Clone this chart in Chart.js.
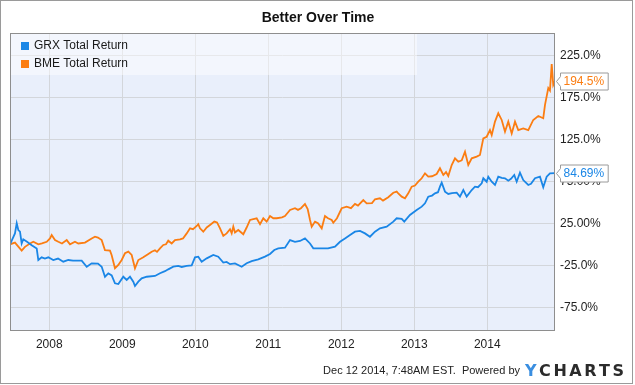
<!DOCTYPE html>
<html>
<head>
<meta charset="utf-8">
<script src="https://cdn.jsdelivr.net/npm/chart.js@4.4.1/dist/chart.umd.min.js"></script>
<style>
html,body{margin:0;padding:0;background:#fff;}
canvas{display:block;}
</style>
</head>
<body>
<canvas id="c" width="635" height="385"></canvas>
<script>
const chartTitle = 'Better Over Time';
const seriesNames = ['GRX Total Return', 'BME Total Return'];
const years = [2008, 2009, 2010, 2011, 2012, 2013, 2014];
const yTickValues = [-75, -25, 25, 75, 125, 175, 225];
const yTickLabels = ['-75.0%', '-25.0%', '25.00%', '75.00%', '125.0%', '175.0%', '225.0%'];
const footerText = 'Dec 12 2014, 7:48AM EST.  Powered by';

const grxDates = [2007.462, 2007.530, 2007.554, 2007.576, 2007.599, 2007.622, 2007.644, 2007.695, 2007.759, 2007.828,
  2007.850, 2007.896, 2007.941, 2007.987, 2008.055, 2008.120, 2008.192, 2008.261, 2008.325, 2008.444,
  2008.513, 2008.581, 2008.667, 2008.718, 2008.763, 2008.809, 2008.855, 2008.900, 2008.946, 2009.014,
  2009.061, 2009.106, 2009.151, 2009.174, 2009.220, 2009.266, 2009.335, 2009.448, 2009.517, 2009.585,
  2009.630, 2009.699, 2009.767, 2009.814, 2009.883, 2009.951, 2009.996, 2010.041, 2010.088, 2010.157,
  2010.247, 2010.315, 2010.384, 2010.430, 2010.476, 2010.544, 2010.636, 2010.704, 2010.773, 2010.863,
  2010.955, 2011.024, 2011.083, 2011.137, 2011.229, 2011.298, 2011.366, 2011.435, 2011.503, 2011.572,
  2011.617, 2011.732, 2011.818, 2011.914, 2011.983, 2012.051, 2012.120, 2012.188, 2012.257, 2012.325,
  2012.393, 2012.462, 2012.530, 2012.622, 2012.713, 2012.759, 2012.828, 2012.863, 2012.941, 2013.033,
  2013.102, 2013.147, 2013.192, 2013.243, 2013.284, 2013.325, 2013.352, 2013.376, 2013.421, 2013.466,
  2013.517, 2013.581, 2013.626, 2013.672, 2013.718, 2013.787, 2013.832, 2013.873, 2013.924, 2013.946,
  2013.992, 2014.014, 2014.061, 2014.106, 2014.151, 2014.198, 2014.243, 2014.288, 2014.325, 2014.370,
  2014.403, 2014.448, 2014.493, 2014.562, 2014.599, 2014.654, 2014.722, 2014.767, 2014.814, 2014.859,
  2014.928];
const grxValues = [0, 13, 25, 17, 15, 1, 6, 3, -1, -5,
  -18.7, -15.5, -17, -15.5, -18.7, -17, -20.7, -18.7, -19.5, -19.5,
  -26.7, -22.6, -23, -26.7, -38.6, -34.5, -37, -46.4, -47.3, -38.6,
  -42.5, -38.6, -44.5, -49.6, -44.5, -40.5, -38.6, -37.7, -34.5, -32,
  -29.8, -26.7, -25.8, -27, -25.8, -25, -15.5, -14.7, -20.7, -16.7,
  -12.7, -14.7, -21.8, -21, -23.6, -22.8, -26.7, -22.6, -20, -17.9,
  -14.7, -11.5, -6.8, -4.8, -4, 5, 3, 4, 7, 1,
  -4.8, -4.8, -4.8, -2.9, 3, 7, 11, 15, 16, 13,
  9, 15, 19, 21, 27, 31, 30.2, 27, 35, 40.8,
  44.8, 48.8, 56.7, 58, 60.7, 62, 68.6, 73.4, 62.7, 59.9,
  61, 61.5, 56.7, 64.6, 56.7, 64.6, 68.6, 68, 72.6, 78.6,
  74.5, 80.5, 74.5, 70.6, 80.5, 79, 78.6, 75.8, 78, 82.5,
  74.5, 85.3, 76.5, 70.6, 72, 78.6, 80.5, 67.9, 80.5, 84.5,
  84.69];

const bmeDates = [2007.462, 2007.530, 2007.622, 2007.667, 2007.736, 2007.781, 2007.850, 2007.900, 2007.965, 2008.010,
  2008.033, 2008.078, 2008.124, 2008.174, 2008.239, 2008.284, 2008.352, 2008.398, 2008.489, 2008.581,
  2008.626, 2008.667, 2008.718, 2008.763, 2008.832, 2008.855, 2008.900, 2008.946, 2008.992, 2009.037,
  2009.083, 2009.129, 2009.174, 2009.220, 2009.288, 2009.357, 2009.403, 2009.448, 2009.476, 2009.517,
  2009.562, 2009.599, 2009.630, 2009.677, 2009.722, 2009.791, 2009.832, 2009.883, 2009.928, 2009.969,
  2010.020, 2010.041, 2010.065, 2010.110, 2010.157, 2010.202, 2010.261, 2010.298, 2010.339, 2010.384,
  2010.430, 2010.476, 2010.499, 2010.521, 2010.544, 2010.589, 2010.658, 2010.704, 2010.750, 2010.795,
  2010.841, 2010.887, 2010.932, 2010.978, 2011.024, 2011.069, 2011.115, 2011.188, 2011.229, 2011.298,
  2011.366, 2011.407, 2011.448, 2011.503, 2011.540, 2011.572, 2011.595, 2011.640, 2011.681, 2011.732,
  2011.777, 2011.818, 2011.869, 2011.891, 2011.941, 2012.006, 2012.074, 2012.133, 2012.188, 2012.229,
  2012.302, 2012.348, 2012.421, 2012.462, 2012.530, 2012.572, 2012.644, 2012.713, 2012.759, 2012.781,
  2012.828, 2012.873, 2012.918, 2012.965, 2013.010, 2013.055, 2013.102, 2013.147, 2013.192, 2013.243,
  2013.307, 2013.352, 2013.398, 2013.435, 2013.466, 2013.513, 2013.558, 2013.603, 2013.650, 2013.695,
  2013.740, 2013.787, 2013.855, 2013.900, 2013.946, 2013.992, 2014.037, 2014.061, 2014.106, 2014.151,
  2014.198, 2014.243, 2014.288, 2014.335, 2014.380, 2014.425, 2014.493, 2014.562, 2014.630, 2014.699,
  2014.767, 2014.791, 2014.836, 2014.859, 2014.883, 2014.904, 2014.928];
const bmeValues = [0, 2, -7.6, -3, 1, 3, 0, 1, 3, 7,
  11, 5, 3, 1, 5, 0, 3, 1, 2, 7,
  9, 8, 5, -7, -7.6, -13, -28.6, -24.6, -18.7, -10.7,
  -8.8, -12.7, -28.6, -18.7, -15.5, -11.5, -8.8, -7, -9, -4.8,
  -0.8, 0, 4.3, 1, 5, 5.9, 7, 13, 19, 18,
  21.8, 24, 19, 15, 20, 23, 27, 26, 19, 10,
  13, 17.9, 13, 21, 14, 17, 12, 20, 29, 30,
  31, 24, 31, 27, 33.7, 31, 31, 32, 33.7, 40.8,
  42.9, 41, 43, 48, 42, 29, 21, 27, 25, 19,
  33.7, 31, 29, 25.7, 31, 42.9, 44.8, 43, 48, 46,
  52.7, 48.8, 49, 53.6, 54.8, 52, 56, 61.4, 62.7, 60.7,
  56.7, 54.8, 60.7, 68.6, 70, 74.5, 78.6, 84.5, 80.5, 81,
  83.7, 90.5, 82.5, 86, 81.3, 94.4, 102.4, 98.3, 100, 110.2,
  94.4, 102.4, 104.3, 106.3, 126, 128, 136, 130, 146, 156,
  148, 134, 146, 132, 146, 136, 138, 136, 148, 152.7,
  150, 166, 186, 183, 214.6, 189.6, 194.5];

const FONT = '"Liberation Sans", Arial, Helvetica, sans-serif';
const COLORS = ['#1a86e6', '#fb7d12'];

function toPoints(xs, ys) { return xs.map((x, i) => ({ x: x, y: ys[i] })); }

const decor = {
  id: 'decor',
  beforeDraw(chart) {
    const ctx = chart.ctx, a = chart.chartArea;
    ctx.save();
    ctx.fillStyle = '#ffffff';
    ctx.fillRect(0, 0, chart.width, chart.height);
    ctx.fillStyle = '#e9effb';
    ctx.fillRect(a.left, a.top, a.right - a.left, a.bottom - a.top);
    ctx.restore();
  },
  afterDatasetsDraw(chart) {
    const ctx = chart.ctx, a = chart.chartArea;
    ctx.save();
    ctx.fillStyle = 'rgba(255,255,255,0.45)';
    ctx.fillRect(a.left, a.top, 407, 42);
    ctx.font = '12px ' + FONT;
    ctx.textBaseline = 'middle';
    ctx.textAlign = 'left';
    chart.data.datasets.forEach((ds, i) => {
      const cy = a.top + 13 + i * 18;
      ctx.fillStyle = ds.borderColor;
      ctx.fillRect(a.left + 11, cy - 4, 8, 8);
      ctx.fillStyle = '#1a1a1a';
      ctx.fillText(ds.label, a.left + 24, cy);
    });
    ctx.strokeStyle = '#8e8e8e';
    ctx.lineWidth = 1;
    ctx.strokeRect(a.left + 0.5, a.top + 0.5, a.right - a.left - 1, a.bottom - a.top);
    ctx.restore();
  },
  afterDraw(chart) {
    const ctx = chart.ctx, a = chart.chartArea, ys = chart.scales.y;
    ctx.save();
    ctx.font = 'bold 14px ' + FONT;
    ctx.fillStyle = '#111';
    ctx.textAlign = 'center';
    ctx.textBaseline = 'middle';
    ctx.fillText(chartTitle, 318, 18);
    ctx.font = '12px ' + FONT;
    ctx.textAlign = 'left';
    chart.data.datasets.forEach((ds) => {
      const last = ds.data[ds.data.length - 1].y;
      const txt = last.toPrecision(4) + '%';
      const py = Math.round(ys.getPixelForValue(last)) + 0.5;
      const w = ctx.measureText(txt).width;
      const x0 = a.right + 1.5, bx = x0 + 4, bw = w + 7, h = 17;
      const top = py - h / 2, bot = py + h / 2;
      ctx.beginPath();
      ctx.moveTo(x0, py);
      ctx.lineTo(bx, py - 5);
      ctx.lineTo(bx, top);
      ctx.lineTo(bx + bw, top);
      ctx.lineTo(bx + bw, bot);
      ctx.lineTo(bx, bot);
      ctx.lineTo(bx, py + 5);
      ctx.closePath();
      ctx.fillStyle = '#ffffff';
      ctx.fill();
      ctx.strokeStyle = '#9a9a9a';
      ctx.lineWidth = 1;
      ctx.stroke();
      ctx.fillStyle = ds.borderColor;
      ctx.textBaseline = 'middle';
      ctx.fillText(txt, bx + 3, py + 0.5);
    });
    ctx.font = '11px ' + FONT;
    ctx.fillStyle = '#222';
    ctx.textAlign = 'right';
    ctx.textBaseline = 'alphabetic';
    ctx.fillText(footerText, 520, 374);
    // logo
    ctx.font = 'bold 16px "DejaVu Sans", ' + FONT;
    ctx.textAlign = 'left';
    const logo = 'YCHARTS';
    let total = 0;
    for (const ch of logo) total += ctx.measureText(ch).width;
    const gap = (99 - total) / (logo.length - 1);
    let lx = 525;
    for (let i = 0; i < logo.length; i++) {
      ctx.fillStyle = i === 0 ? '#3a8ee0' : '#2b2b2b';
      ctx.fillText(logo[i], lx, 375.5);
      lx += ctx.measureText(logo[i]).width + gap;
    }
    ctx.strokeStyle = '#9a9a9a';
    ctx.lineWidth = 1;
    ctx.strokeRect(0.5, 0.5, 632, 383);
    ctx.restore();
  }
};

new Chart(document.getElementById('c'), {
  type: 'line',
  data: {
    datasets: [
      { label: seriesNames[0], data: toPoints(grxDates, grxValues), borderColor: COLORS[0], backgroundColor: COLORS[0], borderWidth: 1.8, pointRadius: 0, tension: 0, fill: false },
      { label: seriesNames[1], data: toPoints(bmeDates, bmeValues), borderColor: COLORS[1], backgroundColor: COLORS[1], borderWidth: 1.8, pointRadius: 0, tension: 0, fill: false }
    ]
  },
  options: {
    responsive: false,
    animation: false,
    devicePixelRatio: 1,
    layout: { padding: { left: 10, top: 33, right: 0, bottom: 0 } },
    plugins: { legend: { display: false }, title: { display: false }, tooltip: { enabled: false } },
    scales: {
      x: {
        type: 'linear',
        min: 2007.462,
        max: 2014.928,
        afterBuildTicks: (s) => { s.ticks = years.map(v => ({ value: v })); },
        afterFit: (s) => { s.height = 55; },
        grid: { color: '#d3d6db', drawTicks: false, lineWidth: 1 },
        border: { display: false },
        ticks: { padding: 7, color: '#222', autoSkip: false, maxRotation: 0, font: { family: FONT, size: 12 }, callback: (v) => String(v) }
      },
      y: {
        position: 'right',
        min: -102,
        max: 251.5,
        afterBuildTicks: (s) => { s.ticks = yTickValues.map(v => ({ value: v })); },
        afterFit: (s) => { s.width = 80; },
        grid: { color: '#d3d6db', drawTicks: false, lineWidth: 1 },
        border: { display: false },
        ticks: { padding: 5, color: '#222', font: { family: FONT, size: 12 }, callback: (v) => yTickLabels[yTickValues.indexOf(v)] }
      }
    }
  },
  plugins: [decor]
});
</script>
</body>
</html>
